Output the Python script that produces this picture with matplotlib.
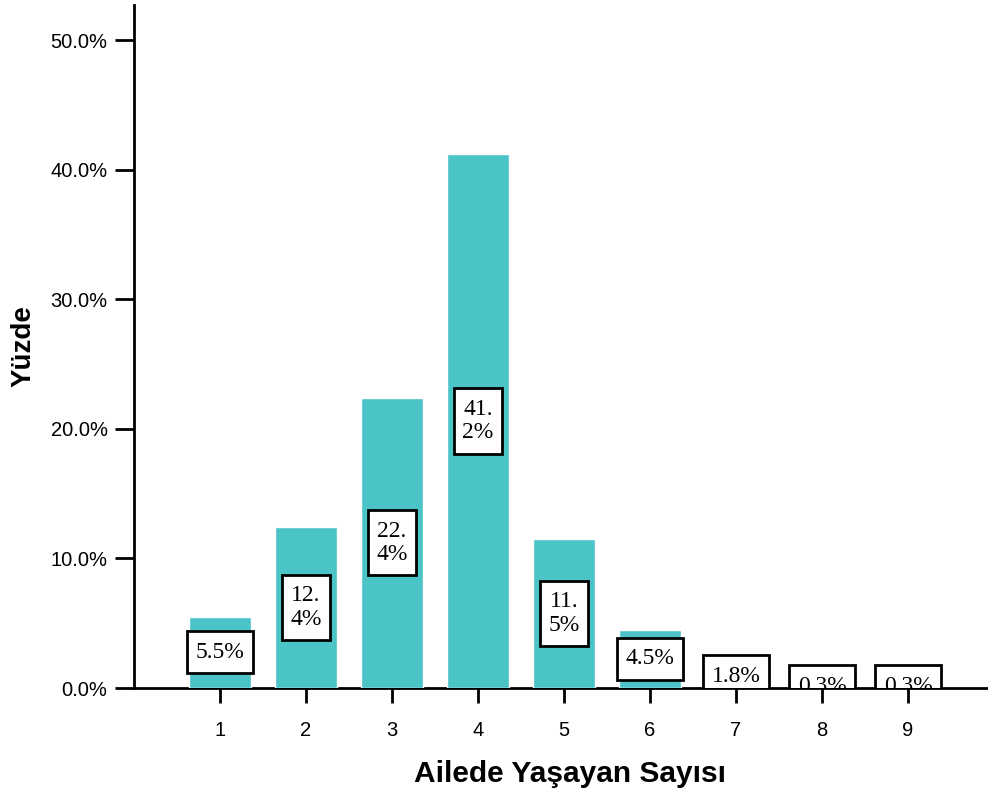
import matplotlib
matplotlib.use("Agg")
import matplotlib.pyplot as plt
from matplotlib.ticker import FuncFormatter
from matplotlib.path import Path

categories = [1, 2, 3, 4, 5, 6, 7, 8, 9]
values = [5.5, 12.4, 22.4, 41.2, 11.5, 4.5, 1.8, 0.3, 0.3]
labels = ["5.5%", "12.\n4%", "22.\n4%", "41.\n2%", "11.\n5%", "4.5%", "1.8%", "0.3%", "0.3%"]
yticks = [0, 10, 20, 30, 40, 50]


def label_box(x0, y0, width, height, mutation_size):
    px = 0.36 * mutation_size
    py = 0.44 * mutation_size
    x0, x1 = x0 - px, x0 + width + px
    y0, y1 = y0 - py, y0 + height + py
    return Path([(x0, y0), (x1, y0), (x1, y1), (x0, y1), (x0, y0)], closed=True)


fig = plt.figure(figsize=(9.88, 7.96), dpi=100)
ax = fig.add_axes([134/988, 108/796, 1 - 134/988, (688-5)/796])

ax.bar(categories, values, width=0.73, color="#4AC4C6", edgecolor="white", linewidth=1, zorder=3)

for x, v, lab in zip(categories, values, labels):
    ax.text(x, v/2, lab, ha="center", va="center", fontsize=17, family="Liberation Serif",
            linespacing=1.15, zorder=5, clip_on=True,
            bbox=dict(boxstyle=label_box, facecolor="white", edgecolor="black", linewidth=2))

ax.set_xlim(0, 9.93)
ax.set_ylim(0, (688-5)/12.96)
ax.set_xticks(categories)
ax.set_yticks(yticks)
ax.yaxis.set_major_formatter(FuncFormatter(lambda v, p: f"{v:.1f}%"))

for s in ["top", "right"]:
    ax.spines[s].set_visible(False)
for s in ["left", "bottom"]:
    ax.spines[s].set_linewidth(2)
    ax.spines[s].set_zorder(1)

ax.tick_params(axis="y", direction="out", length=14, width=2, labelsize=14.5, pad=5)
ax.tick_params(axis="x", direction="out", length=11, width=2, labelsize=14.5, pad=13)
for t in ax.get_xticklabels() + ax.get_yticklabels():
    t.set_family("Liberation Sans")

ax.set_ylabel("Yüzde", fontsize=20, fontweight="bold", family="Liberation Sans", labelpad=10)
ax.set_xlabel("Ailede Yaşayan Sayısı", fontsize=21.5, fontweight="bold", family="Liberation Sans", labelpad=14)
ax.xaxis.label.set_x(0.5105)

fig.savefig("out.png", dpi=100)
